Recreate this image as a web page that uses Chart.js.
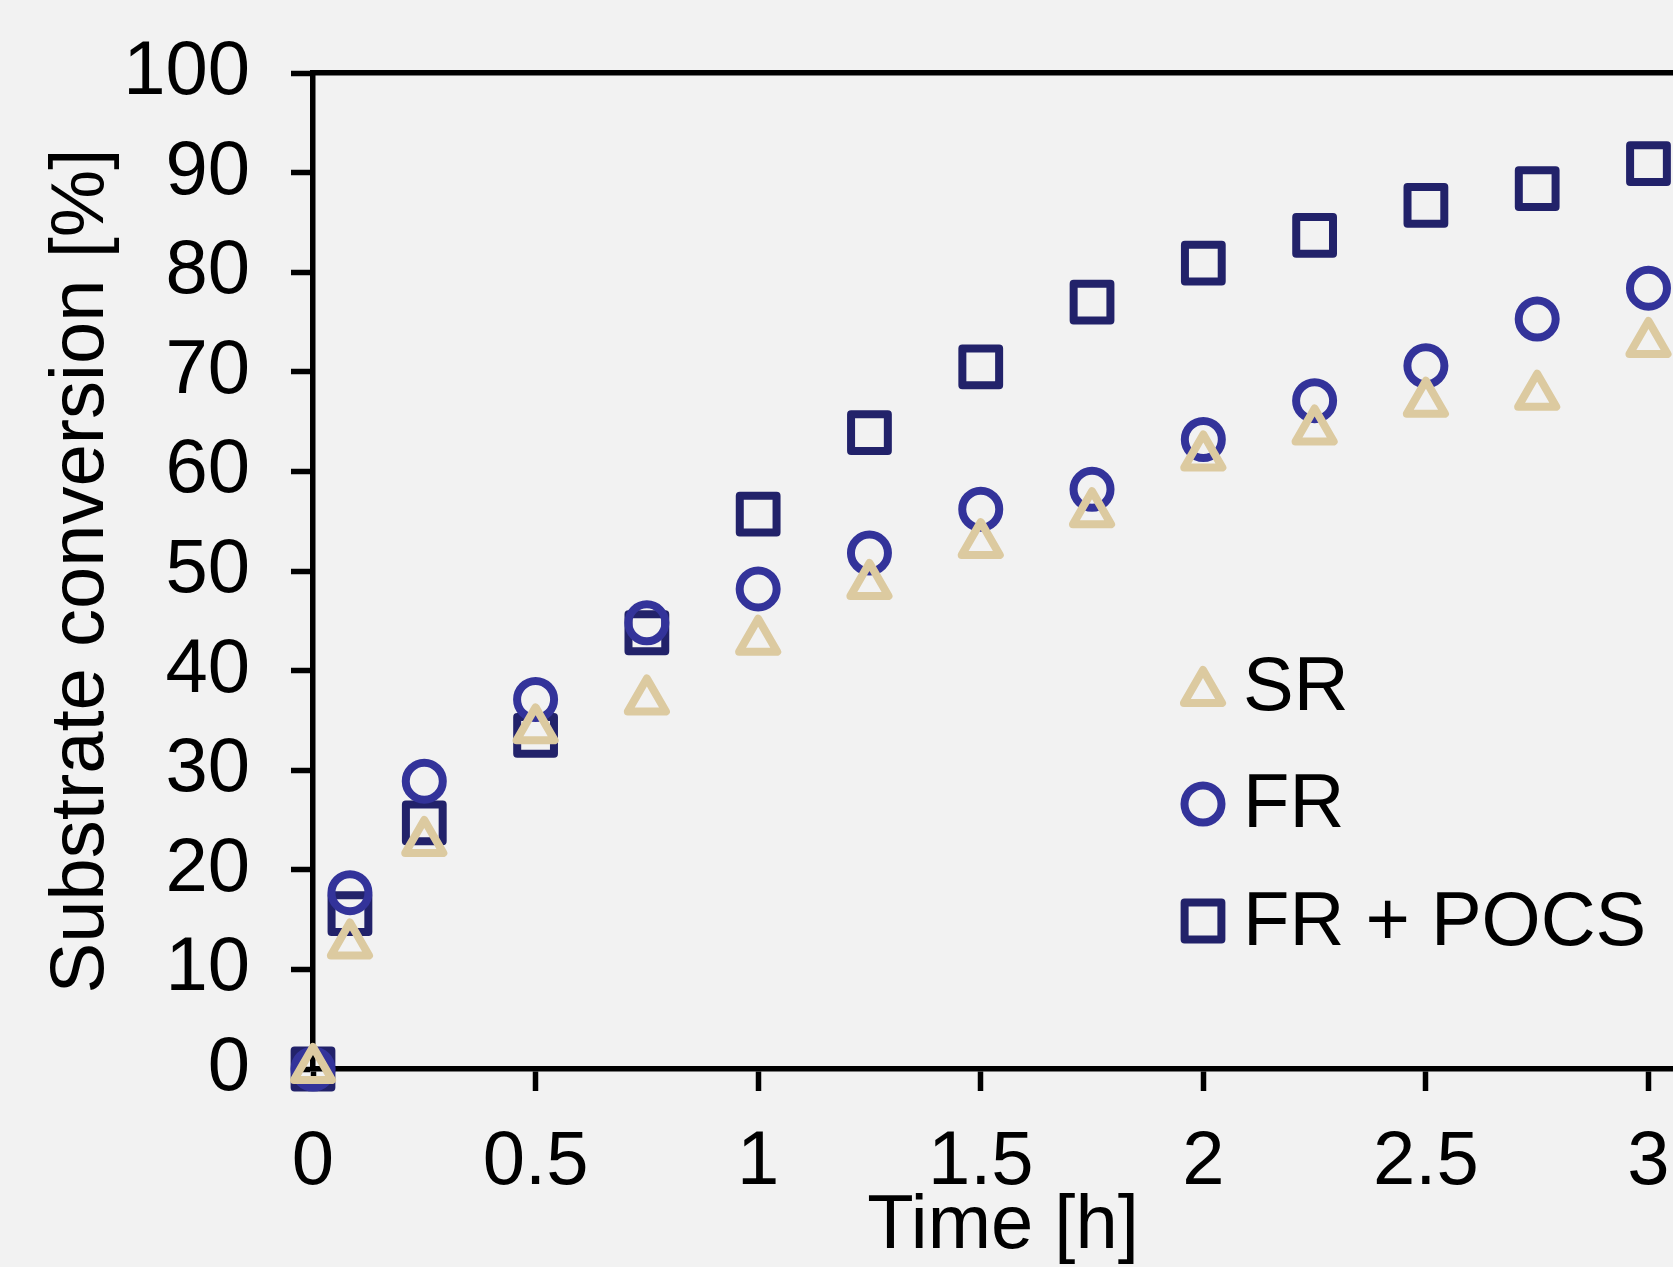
<!DOCTYPE html>
<html>
<head>
<meta charset="utf-8">
<script src="https://cdn.jsdelivr.net/npm/chart.js@4/dist/chart.umd.min.js"></script>
<style>
  html, body { margin: 0; padding: 0; background: #f2f2f2; overflow: hidden; }
  #wrap { position: absolute; left: 0; top: 0; }
</style>
</head>
<body>
<div id="wrap"><canvas id="chart" width="1700" height="1290"></canvas></div>
<script>
// time points [h]
const times = [0, 0.083, 0.25, 0.5, 0.75, 1, 1.25, 1.5, 1.75, 2, 2.25, 2.5, 2.75, 3];
// substrate conversion [%]
const srValues = [0, 12.5, 22.8, 34.1, 37.0, 43.0, 48.6, 52.7, 55.8, 61.5, 64.1, 66.9, 67.6, 72.9];
const frValues = [0, 17.7, 28.9, 37.1, 44.8, 48.2, 51.8, 56.2, 58.2, 63.2, 67.1, 70.6, 75.3, 78.4];
const pocsValues = [0, 15.6, 24.7, 33.5, 43.8, 55.7, 63.9, 70.5, 77.0, 80.9, 83.7, 86.7, 88.4, 90.9];
const seriesLabels = ['SR', 'FR', 'FR + POCS'];
const xTicks = [0, 0.5, 1, 1.5, 2, 2.5, 3];

const FONT = { family: '"Liberation Sans", Arial, sans-serif', size: 76 };
const colors = ['#dccaa0', '#33339a', '#22226a'];
const styles = ['triangle', 'circle', 'rect'];
const radii = [22, 18.5, 26];
const AXIS_W = 5.5;

const toPoints = vals => vals.map((v, i) => ({ x: times[i], y: v }));

// keep the label overhang out of the layout so the plot area stays put
const noPad = s => { s.paddingTop = 0; s.paddingBottom = 0; s.paddingLeft = 0; s.paddingRight = 0; };

// legend drawn inside the plot, using the dataset styles
const insideLegend = {
  id: 'insideLegend',
  beforeDatasetsDraw(chart) {
    chart.ctx.lineJoin = 'round';
  },
  afterDatasetsDraw(chart, args, opts) {
    const ctx = chart.ctx;
    ctx.save();
    ctx.lineJoin = 'round';
    chart.data.datasets.forEach((ds, i) => {
      const cx = opts.x, cy = opts.rows[i];
      const r = ds.pointRadius;
      ctx.strokeStyle = ds.borderColor;
      ctx.lineWidth = ds.borderWidth;
      ctx.beginPath();
      if (ds.pointStyle === 'circle') {
        ctx.arc(cx, cy, r, 0, Math.PI * 2);
      } else if (ds.pointStyle === 'rect') {
        const s = r * Math.SQRT1_2;
        ctx.rect(cx - s, cy - s, 2 * s, 2 * s);
      } else {
        ctx.moveTo(cx, cy - r);
        ctx.lineTo(cx + r * Math.sin(2 * Math.PI / 3), cy - r * Math.cos(2 * Math.PI / 3));
        ctx.lineTo(cx + r * Math.sin(4 * Math.PI / 3), cy - r * Math.cos(4 * Math.PI / 3));
        ctx.closePath();
      }
      ctx.stroke();
      ctx.fillStyle = '#000';
      ctx.font = `${FONT.size}px ${FONT.family}`;
      ctx.textAlign = 'left';
      ctx.textBaseline = 'alphabetic';
      ctx.fillText(ds.label, opts.textX, opts.baselines[i]);
    });
    ctx.restore();
  }
};

const datasets = [srValues, frValues, pocsValues].map((vals, i) => ({
  label: seriesLabels[i],
  data: toPoints(vals),
  pointStyle: styles[i],
  pointRadius: radii[i],
  pointHoverRadius: radii[i],
  borderColor: colors[i],
  backgroundColor: 'rgba(0,0,0,0)',
  pointBackgroundColor: 'rgba(0,0,0,0)',
  borderWidth: 8,
  showLine: false,
  clip: false
}));

const gridOpts = { drawOnChartArea: false, drawTicks: true, tickLength: 22, tickWidth: AXIS_W, tickColor: '#000', color: '#000' };
const borderOpts = { display: true, color: '#000', width: AXIS_W };

new Chart(document.getElementById('chart'), {
  type: 'scatter',
  data: { datasets },
  options: {
    responsive: false,
    animation: false,
    layout: { autoPadding: false, padding: { top: 73, right: 7, bottom: 0, left: 0 } },
    plugins: {
      legend: { display: false },
      tooltip: { enabled: false },
      insideLegend: { x: 1203, rows: [692, 804, 921], textX: 1243, baselines: [710, 827, 945] }
    },
    scales: {
      x: {
        type: 'linear',
        min: 0,
        max: 3.1,
        afterBuildTicks: s => { s.ticks = xTicks.map(v => ({ value: v })); },
        afterFit: s => { s.height = 221; noPad(s); },
        ticks: { font: FONT, color: '#000', padding: 26, maxRotation: 0, callback: v => String(v) },
        grid: gridOpts,
        border: borderOpts,
        title: { display: true, text: 'Time [h]', font: FONT, color: '#000', padding: { top: 0, bottom: 17 } }
      },
      x2: {
        type: 'linear',
        position: 'top',
        min: 0,
        max: 3.1,
        afterFit: s => { s.height = 0; noPad(s); },
        ticks: { display: false },
        grid: { display: false },
        border: borderOpts
      },
      y: {
        min: 0,
        max: 100,
        afterFit: s => { s.width = 313; noPad(s); },
        ticks: { stepSize: 10, font: FONT, color: '#000', padding: 41 },
        grid: gridOpts,
        border: borderOpts,
        title: { display: true, text: 'Substrate conversion [%]', font: FONT, color: '#000', padding: { top: 36, bottom: 0 } }
      }
    }
  },
  plugins: [insideLegend]
});
</script>
</body>
</html>
